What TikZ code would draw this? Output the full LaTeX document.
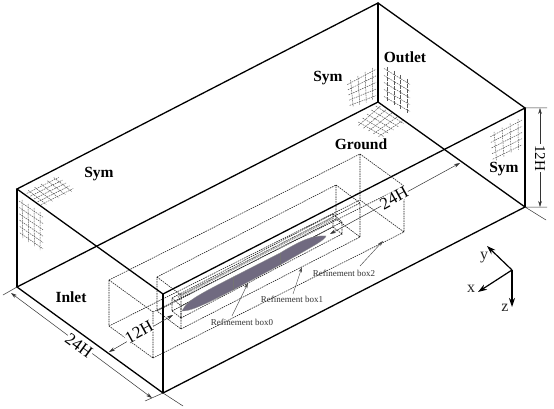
\documentclass[tikz,border=0pt]{standalone}
\usepackage{fontspec}
\setmainfont{Liberation Serif}
\usetikzlibrary{calc,arrows.meta}
\definecolor{bodycol}{RGB}{112,106,128}
\tikzset{
  edge/.style={line width=1.3pt,black,line cap=round},
  rbox/.style={line width=.6pt,dash pattern=on 1.5pt off .9pt,black!88},
  mesh/.style={line width=.5pt,dash pattern=on 1.6pt off .9pt,black!65},
  dim/.style={line width=.5pt,black!80},
  dimarrow/.style={dim,{Stealth[length=6pt,width=3.6pt]}-{Stealth[length=6pt,width=3.6pt]}},
  lead/.style={line width=.45pt,black!70,-{Stealth[length=5.5pt,width=3.4pt]}},
  face/.style={font=\bfseries\fontsize{15.5}{17}\selectfont,inner sep=0pt},
  dimtext/.style={font=\fontsize{17}{19}\selectfont,fill=white,inner sep=.5pt},
  dimtextb/.style={font=\fontsize{15}{17}\selectfont,fill=white,inner sep=.8pt},
  boxlabel/.style={font=\fontsize{9}{10}\selectfont,black!80,inner sep=0pt},
  axis/.style={line width=1.2pt,-{Stealth[length=9pt,width=6pt]}},
  axislabel/.style={font=\fontsize{16}{18}\selectfont,inner sep=0pt,black!85},
}
\newcommand{\meshgrid}[6]{%
  \foreach \t [evaluate=\t as \u using (\t-.5)/#5] in {1,...,#5}{\draw[mesh] ($(#1)!\u!(#2)$) -- ($(#4)!\u!(#3)$);}
  \foreach \t [evaluate=\t as \u using (\t-.5)/#6] in {1,...,#6}{\draw[mesh] ($(#1)!\u!(#4)$) -- ($(#2)!\u!(#3)$);}
}
\newcommand{\refbox}[6]{%
  \coordinate (#6a) at (#1); \coordinate (#6b) at (#2);
  \coordinate (#6c) at (#3); \coordinate (#6d) at (#4);
  \coordinate (#6A) at ($(#1)+(#5)$); \coordinate (#6B) at ($(#2)+(#5)$);
  \coordinate (#6C) at ($(#3)+(#5)$); \coordinate (#6D) at ($(#4)+(#5)$);
  \draw[rbox] (#6a)--(#6b)--(#6c)--(#6d)--cycle (#6A)--(#6B)--(#6C)--(#6D)--cycle
    (#6a)--(#6A) (#6b)--(#6B) (#6c)--(#6C) (#6d)--(#6D);
}
\begin{document}
\begin{tikzpicture}[x=1pt,y=-1pt]
\useasboundingbox (0,0) rectangle (554,409);
\fill[white] (0,0) rectangle (554,409);
% main box corners
\coordinate (A) at (17,189);
\coordinate (B) at (17,287);
\coordinate (C) at (163,393);
\coordinate (D) at (163,294);
\coordinate (E) at (378,3);
\coordinate (F) at (378,102);
\coordinate (G) at (525,108);
\coordinate (K) at (525,207);
% refinement boxes
\refbox{109,280}{153,312}{153,358}{109,326}{251,-126}{P}
\refbox{157,277}{181,295}{181,329}{157,311}{179,-92}{Q}
\refbox{172,298}{181,306}{181,318}{172,311}{161,-84}{R}
% band above the body
\coordinate (ba) at (178,297); \coordinate (bb) at (333,218);
\draw[black!40,line width=2.2pt,dash pattern=on 1pt off .8pt] (ba) -- (bb);
% body
\coordinate (tipa) at (182,311);
\coordinate (tipb) at (326,236);
\fill[bodycol,draw=black!45,line width=.3pt] (tipa)
  .. controls (187,301) and (194,297) .. (233,277)
  -- (280,253) .. controls (300,241) and (312,235) .. (tipb)
  .. controls (325,240) and (315,245) .. (280,265)
  -- (233,290) .. controls (200,307) and (190,311) .. (tipa) -- cycle;
\draw[black!55,line width=.3pt] (233,277) -- (233,290) (280,253) -- (280,265);
% meshes
\coordinate (m1a) at (25,192); \coordinate (m1b) at (57,176); \coordinate (m1c) at (75,190); \coordinate (m1d) at (43,206);
\meshgrid{m1a}{m1b}{m1c}{m1d}{5}{5}
\coordinate (m2a) at (19,198); \coordinate (m2b) at (43,214); \coordinate (m2c) at (43,252); \coordinate (m2d) at (20,236);
\meshgrid{m2a}{m2b}{m2c}{m2d}{4}{6}
\coordinate (m3a) at (347,82); \coordinate (m3b) at (376,66); \coordinate (m3c) at (376,99); \coordinate (m3d) at (350,108);
\meshgrid{m3a}{m3b}{m3c}{m3d}{4}{5}
\coordinate (m4a) at (384,65); \coordinate (m4b) at (410,81); \coordinate (m4c) at (410,115); \coordinate (m4d) at (384,100);
\meshgrid{m4a}{m4b}{m4c}{m4d}{4}{5}
\coordinate (m5a) at (356,124); \coordinate (m5b) at (378,104); \coordinate (m5c) at (406,122); \coordinate (m5d) at (381,138);
\meshgrid{m5a}{m5b}{m5c}{m5d}{5}{5}
\coordinate (m6a) at (490,134); \coordinate (m6b) at (522,117); \coordinate (m6c) at (522,148); \coordinate (m6d) at (493,162);
\meshgrid{m6a}{m6b}{m6c}{m6d}{4}{5}
% main box edges
\draw[edge] (A)--(E)--(G)--(D)--cycle;
\draw[edge] (B)--(F)--(K)--(C)--cycle;
\draw[edge] (A)--(B) (D)--(C) (E)--(F) (G)--(K);
% dimensions
\coordinate (x1) at (3,295); \coordinate (x2) at (145,401); \coordinate (x3) at (183,406);
\coordinate (x4) at (547,108); \coordinate (x5) at (547,207); \coordinate (x6) at (546,220);
\draw[dim] (B)--(x1) (C)--(x2) (C)--(x3) (G)--(x4) (K)--(x5) (K)--(x6);
\coordinate (d1a) at (11,293); \coordinate (d1b) at (152,398);
\draw[dimarrow] (d1a)--(d1b);
\node[dimtext,rotate=-36] (t24a) at (79,346) {24H};
\coordinate (d2a) at (173,315); \coordinate (d2b) at (109,352);
\draw[dimarrow] (d2a)--(d2b);
\node[dimtext,rotate=29] (t12a) at (139,332) {12H};
\coordinate (d3a) at (330,234); \coordinate (d3b) at (460,163);
\draw[dimarrow] (d3a)--(d3b);
\node[dimtext,rotate=29] (t24b) at (394,198) {24H};
\coordinate (d4a) at (540,108); \coordinate (d4b) at (540,207);
\draw[dimarrow] (d4a)--(d4b);
\node[dimtextb,rotate=-90] (t12b) at (540,158) {12H};
% face labels
\node[face] (sym1) at (99,174) {Sym};
\node[face] (sym2) at (328,78) {Sym};
\node[face] (outlet) at (405,57) {Outlet};
\node[face] (ground) at (361,144) {Ground};
\node[face] (sym3) at (504,169) {Sym};
\node[face] (inlet) at (71,297) {Inlet};
% refinement labels
\node[boxlabel] (r0) at (242,322) {Refinement box0};
\node[boxlabel] (r1) at (292,299) {Refinement box1};
\node[boxlabel] (r2) at (344,273) {Refinement box2};
\coordinate (l0) at (248,283); \coordinate (l1) at (302,267); \coordinate (l2) at (383,241);
\coordinate (s0) at (232,316); \coordinate (s1) at (293,294); \coordinate (s2) at (360,266);
\draw[lead] (s0) -- (l0);
\draw[lead] (s1) -- (l1);
\draw[lead] (s2) -- (l2);
% axes
\coordinate (O) at (512,270);
\coordinate (ay) at (487,246); \coordinate (ax) at (478,292); \coordinate (az) at (512,307);
\draw[axis] (O)--(ay);
\draw[axis] (O)--(ax);
\draw[axis] (O)--(az);
\node[axislabel] (ly) at (484,258) {y};
\node[axislabel] (lx) at (471,289) {x};
\node[axislabel] (lz) at (505,308) {z};
\end{tikzpicture}
\end{document}
